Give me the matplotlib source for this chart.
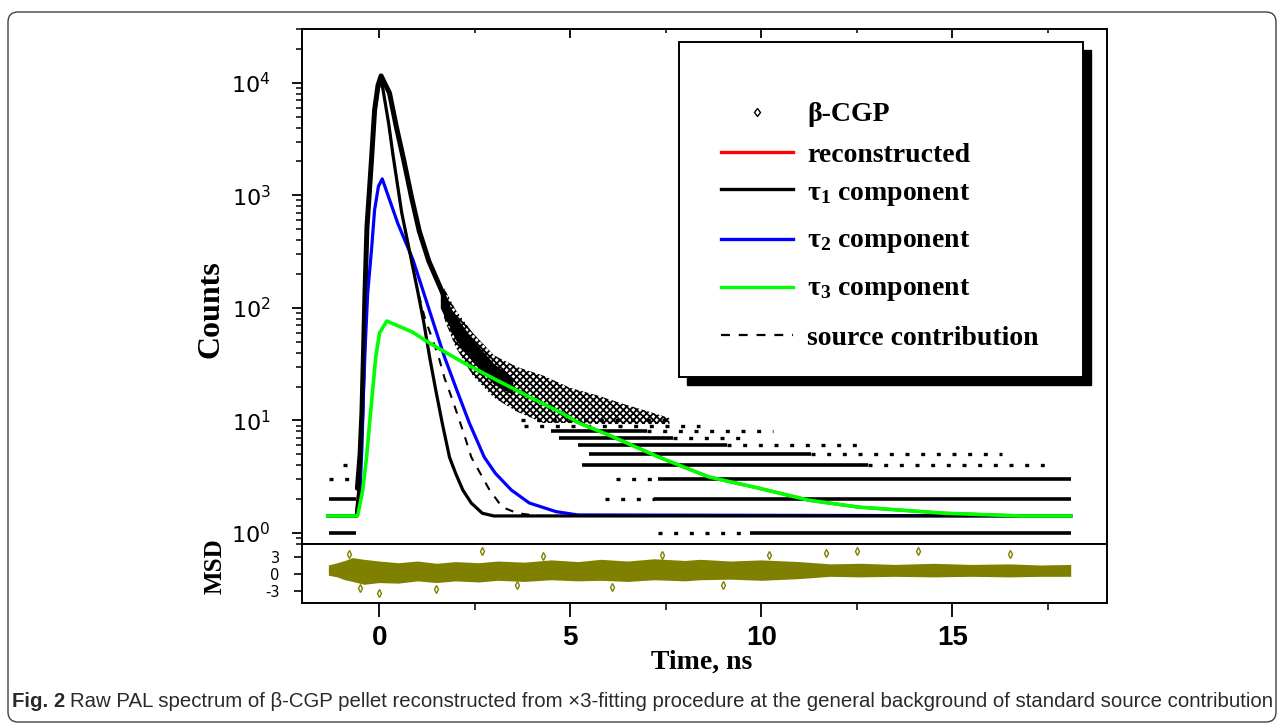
"""PAL spectrum of beta-CGP with x3-component fit and MSD residuals."""

import matplotlib

matplotlib.use("Agg")
import matplotlib.pyplot as plt
import numpy as np
from matplotlib.patches import FancyBboxPatch, Rectangle
from matplotlib.lines import Line2D

plt.rcParams["axes.unicode_minus"] = False
plt.rcParams["hatch.linewidth"] = 1.3

# ---- data (time in ns, counts) ----
t_recon = [-1.35, -0.6, -0.53, -0.47, -0.43, -0.40, -0.37, -0.32, -0.20, -0.12, -0.03, 0.05,
           0.27, 0.45, 0.64, 0.85, 1.05, 1.3, 1.66, 1.95, 2.43, 3.07, 3.93, 4.79, 5.23,
           6.02, 7.32, 8.63, 9.93, 11.24, 12.55, 14.8, 16.8, 18.1]
c_recon = [1.42, 1.42, 2.5, 6, 18, 60, 140, 520, 2100, 5700, 9500, 11500,
           8100, 4050, 2080, 950, 480, 260, 136, 75, 40, 23.5, 16.2, 11.6, 9.5,
           7.4, 4.73, 3.15, 2.51, 1.96, 1.70, 1.5, 1.42, 1.42]

t_tau1 = [-1.35, -0.6, -0.53, -0.47, -0.43, -0.40, -0.37, -0.32, -0.20, -0.12, -0.03, 0.06,
          0.25, 0.36, 0.59, 0.82, 1.0, 1.17, 1.32, 1.48, 1.65, 1.84, 2.0, 2.19, 2.41, 2.7,
          3.0, 18.1]
c_tau1 = [1.42, 1.42, 2.4, 6, 18, 55, 130, 480, 1950, 5300, 8800, 10500,
          4300, 2300, 700, 290, 145, 73.5, 36.6, 18.7, 9.5, 4.73, 3.4, 2.41, 1.85, 1.5,
          1.42, 1.42]

t_tau2 = [-1.35, -0.58, -0.5, -0.45, -0.41, -0.36, -0.30, -0.2, -0.12, -0.02, 0.08, 0.49,
          0.88, 1.14, 1.42, 1.71, 2.03, 2.36, 2.75, 3.04, 3.46, 3.93, 4.63, 5.2, 18.1]
c_tau2 = [1.42, 1.42, 2.4, 6, 18, 50, 136, 330, 740, 1200, 1400, 560,
          270, 145, 73.5, 36.6, 18.7, 9.5, 4.73, 3.4, 2.41, 1.85, 1.55, 1.45, 1.42]

t_tau3 = [-1.35, -0.58, -0.56, -0.43, -0.33, -0.25, -0.17, -0.09, 0.01, 0.2, 0.87, 1.31,
          2.18, 3.07, 3.93, 4.79, 5.23, 6.02, 7.32, 8.63, 9.93, 11.24, 12.55, 14.8, 16.8, 18.1]
c_tau3 = [1.42, 1.42, 1.45, 2.41, 4.73, 9.5, 18.7, 36.6, 60, 76.5, 61, 48.9,
          33, 22.9, 16.2, 11.6, 9.5, 7.4, 4.73, 3.15, 2.51, 1.96, 1.70, 1.5, 1.42, 1.42]

t_source = [-1.35, -0.6, -0.53, -0.47, -0.43, -0.40, -0.37, -0.32, -0.20, -0.12, -0.03, 0.06,
            0.25, 0.36, 0.59, 0.82, 1.0, 1.2, 1.40, 1.58, 1.71, 1.92, 2.23, 2.41, 2.89, 3.22,
            3.62, 4.2, 18.1]
c_source = [1.42, 1.42, 2.4, 6, 18, 55, 130, 480, 1950, 5300, 8800, 10500,
            4300, 2300, 700, 290, 145, 80, 52, 34.4, 23.8, 15.2, 7.4, 4.73, 2.41, 1.7,
            1.5, 1.42, 1.42]

# measured spectrum: dense band, scattered cloud, integer-count rows
band_t = [-0.57, -0.5, -0.45, -0.41, -0.37, -0.32, -0.2, -0.12, -0.03, 0.05, 0.27, 0.45,
          0.64, 0.85, 1.05, 1.3, 1.66, 1.95]
band_c = [2.5, 5, 12, 40, 140, 520, 2100, 5700, 9500, 11500, 8100, 4050,
          2080, 950, 480, 260, 136, 75]

core_t = [1.6, 2.0, 2.45, 3.0, 3.5]
core_lo = [100, 52, 33, 21, 17]
core_hi = [140, 85, 52, 32, 24]

cloud_t = [1.7, 2.0, 2.45, 3.0, 3.6, 4.3, 5.0, 5.76, 6.4, 7.06, 7.6]
cloud_lo = [80, 45, 25, 16, 12, 9.5, 9.5, 9.3, 9.3, 9.3, 9.3]
cloud_hi = [150, 96, 60, 38, 30, 25, 19.5, 16.5, 14, 12, 10.5]

dense_rows = [(1, -1.32, -0.60), (2, -1.32, -0.60), (1, 9.7, 18.1), (2, 7.2, 18.1),
              (3, 7.3, 18.1), (4, 5.3, 12.8), (5, 5.5, 11.3), (6, 5.2, 9.1),
              (7, 4.7, 7.7), (8, 4.5, 7.0)]
sparse_rows = [(3, -1.32, -0.60), (4, -0.95, -0.60), (1, 7.3, 9.7), (2, 5.9, 7.2),
               (3, 6.2, 7.3), (4, 12.8, 17.6), (5, 11.3, 16.3), (6, 9.1, 12.6),
               (7, 7.7, 9.6), (8, 7.0, 10.3), (9, 3.8, 8.4), (10, 3.7, 7.5)]

# MSD residuals: band envelope and outliers
msd_t = [-1.33, -1.1, -0.9, -0.7, -0.4, 0.0, 0.5, 1.0, 1.5, 2.0, 2.6, 3.1, 3.8, 4.5, 5.2,
         5.8, 6.5, 7.2, 8.0, 8.4, 9.2, 10.0, 11.0, 11.8, 12.6, 13.5, 14.5, 15.5, 16.5, 17.3, 18.1]
msd_lo = [-0.2, -0.5, -1.0, -1.3, -1.8, -1.5, -1.6, -1.2, -1.5, -1.2, -1.4, -1.1, -1.3, -1.0,
          -1.2, -1.1, -1.3, -1.0, -1.2, -1.0, -0.9, -1.1, -0.8, -0.4, -0.5, -0.4, -0.5, -0.4,
          -0.5, -0.4, -0.4]
msd_hi = [1.6, 2.0, 2.4, 2.9, 2.6, 2.3, 2.0, 2.3, 1.9, 2.2, 2.0, 2.3, 2.1, 2.5, 2.2,
          2.6, 2.3, 2.7, 2.4, 2.6, 2.3, 2.5, 2.2, 1.8, 1.9, 1.7, 1.9, 1.7, 1.8, 1.6, 1.7]
msd_out_t = [-0.8, 0.0, 1.5, 2.7, 4.3, 6.1, 7.4, 9.0, 10.2, 11.7, 12.5, 14.1, 16.5, -0.5, 3.6]
msd_out_v = [3.6, -3.4, -2.7, 4.1, 3.2, -2.2, 3.4, -1.9, 3.3, 3.8, 4.0, 4.1, 3.5, -2.4, -2.0]

TICKS_X = [0, 5, 10, 15]
MINOR_X = [2.5, 7.5, 12.5, 17.5]
TICKS_MSD = [-3, 0, 3]

CAPTION_BOLD = "Fig. 2"
CAPTION = ("Raw PAL spectrum of \u03b2-CGP pellet reconstructed from \u00d73-fitting procedure "
           "at the general background of standard source contribution")

W, H = 1282, 728
SERIF = ["Liberation Serif", "DejaVu Serif"]
SANS = ["Liberation Sans", "DejaVu Sans"]


def fx(px):
    return px / W


def fy(py):
    return 1 - py / H


fig = plt.figure(figsize=(W / 100, H / 100), dpi=100)

# rounded frame around the whole panel
fig.add_artist(FancyBboxPatch(
    (8 / 100, 6 / 100), 1268 / 100, 710 / 100,
    boxstyle="round,pad=0,rounding_size=0.1",
    transform=fig.dpi_scale_trans, fill=False, ec="0.25", lw=1.0,
))

ax = fig.add_axes([fx(302), fy(544), fx(1107) - fx(302), fy(29) - fy(544)])
axr = fig.add_axes([fx(302), fy(603), fx(1107) - fx(302), fy(544) - fy(603)], sharex=ax)

# ---- main panel ----
ax.set_yscale("log")
for lvl, t0, t1 in dense_rows:
    ax.hlines(lvl, t0, t1, color="k", lw=2.6, zorder=2)
for lvl, t0, t1 in sparse_rows:
    ax.hlines(lvl, t0, t1, color="k", lw=2.4, linestyles=(0, (1.2, 3.5)), zorder=2)
ax.fill_between(cloud_t, cloud_lo, cloud_hi, facecolor="none", edgecolor="k",
                hatch="xxxxx", lw=0, zorder=2)
ax.fill_between(core_t, core_lo, core_hi, color="k", lw=0, zorder=2)
ax.plot(t_recon, c_recon, color="#ff0000", lw=2.2, zorder=1)
ax.plot(band_t, band_c, color="k", lw=3.6, solid_capstyle="round", zorder=3)
ax.plot(t_source, c_source, color="k", lw=1.5, dashes=(4, 4), zorder=4)
ax.plot(t_tau2, c_tau2, color="#0000ff", lw=2.3, zorder=4)
ax.plot(t_tau1, c_tau1, color="k", lw=2.3, zorder=5)
ax.plot(t_tau3, c_tau3, color="#00ff00", lw=2.6, zorder=5)

ax.set_xlim(-2.02, 19.05)
ax.set_ylim(0.8, 3.0e4)
ax.yaxis.set_major_locator(matplotlib.ticker.LogLocator(base=10, numticks=10))
ax.yaxis.set_minor_locator(matplotlib.ticker.LogLocator(base=10, subs=np.arange(2, 10), numticks=20))
ax.yaxis.set_minor_formatter(matplotlib.ticker.NullFormatter())
ax.tick_params(axis="y", which="major", direction="out", length=7.5, width=1.3,
               labelsize=16, pad=15, right=False)
ax.tick_params(axis="y", which="minor", direction="out", length=4.5, width=1.1, right=False)
ax.tick_params(axis="x", which="both", bottom=False, top=True, labelbottom=False,
               labeltop=False, direction="in")
ax.tick_params(axis="x", which="major", length=6.5, width=1.3)
ax.tick_params(axis="x", which="minor", length=3, width=1.1)
for s in ax.spines.values():
    s.set_linewidth(1.4)

ax.set_ylabel("Counts", fontsize=23, fontweight="bold", family=SERIF, va="center")
ax.yaxis.set_label_coords(-0.113, 0.456)

# legend drawn as a shadowed box
bx0, bx1, by0, by1 = 0.468, 0.970, 0.324, 0.975
ax.add_patch(Rectangle((bx0 + 0.0099, by0 - 0.0155), bx1 - bx0, by1 - by0,
                       transform=ax.transAxes, fc="k", ec="k", zorder=8, clip_on=False))
ax.add_patch(Rectangle((bx0, by0), bx1 - bx0, by1 - by0, transform=ax.transAxes,
                       fc="white", ec="k", lw=1.4, zorder=9, clip_on=False))
hx0, hx1, tx = 0.5205, 0.610, 0.6273
entries = [
    ("\u03b2-CGP", 0.8388, 0.8214, dict(ls="none", marker="d", ms=4.5, mfc="white", mec="k", mew=1.0)),
    ("reconstructed", 0.7612, 0.7417, dict(color="#ff0000", lw=2.4)),
    (r"$\mathregular{\tau_1}$ component", 0.6893, 0.668, dict(color="k", lw=2.4)),
    (r"$\mathregular{\tau_2}$ component", 0.5922, 0.5767, dict(color="#0000ff", lw=2.4)),
    (r"$\mathregular{\tau_3}$ component", 0.4990, 0.4835, dict(color="#00ff00", lw=2.4)),
    ("source contribution", 0.4058, 0.3864, dict(color="k", lw=1.6, dashes=(4, 4))),
]
for label, hy, ty, style in entries:
    if style.get("marker"):
        ax.add_line(Line2D([(hx0 + hx1) / 2], [hy], transform=ax.transAxes, zorder=10,
                           clip_on=False, **style))
    else:
        ax.add_line(Line2D([hx0, hx1], [hy, hy], transform=ax.transAxes, zorder=10,
                           clip_on=False, **style))
    ax.text(tx, ty, label, transform=ax.transAxes, fontsize=20, fontweight="bold",
            family=SERIF, va="baseline", ha="left", zorder=10)

# ---- residual panel ----
axr.fill_between(msd_t, msd_lo, msd_hi, color="#808000", lw=0)
axr.plot(msd_out_t, msd_out_v, ls="none", marker="d", ms=4, mfc="white", mec="#808000", mew=1.0)
axr.set_ylim(-5.1, 5.3)
axr.set_yticks(TICKS_MSD)
axr.set_xticks(TICKS_X)
axr.set_xticks(MINOR_X, minor=True)
axr.set_xlim(-2.02, 19.05)
axr.tick_params(axis="x", which="major", direction="out", length=10, width=1.3,
                labelsize=20, pad=6, top=False, labelfontfamily=SANS)
axr.tick_params(axis="x", which="minor", direction="out", length=5, width=1.1, top=False)
axr.tick_params(axis="y", direction="out", length=6, width=1.2, labelsize=10.5, pad=10)
for lbl in axr.get_xticklabels():
    lbl.set_fontweight("bold")
for s in axr.spines.values():
    s.set_linewidth(1.4)
axr.set_ylabel("MSD", fontsize=18, fontweight="bold", family=SERIF, va="center")
axr.yaxis.set_label_coords(-0.108, 0.62)
axr.set_xlabel("Time, ns", fontsize=20, fontweight="bold", family=SERIF, va="center")
axr.xaxis.set_label_coords(0.497, -1.0)

# ---- caption, sized to span the frame ----
cap_y = fy(707)
cap1 = fig.text(fx(12), cap_y, CAPTION_BOLD, fontsize=16, fontweight="bold",
                family=SANS, color="#2a2a2a", va="baseline")
cap2 = fig.text(0, cap_y, CAPTION, fontsize=16, family=SANS, color="#2a2a2a", va="baseline")
fig.canvas.draw()
r = fig.canvas.get_renderer()
w_total = cap1.get_window_extent(r).width + 5 + cap2.get_window_extent(r).width
size = 16 * (1263 / w_total)
cap1.set_fontsize(size)
cap2.set_fontsize(size)
fig.canvas.draw()
bb = cap1.get_window_extent(r)
cap2.set_x((bb.x1 + 0.3 * size) / W)

fig.savefig("out.png", dpi=100)
